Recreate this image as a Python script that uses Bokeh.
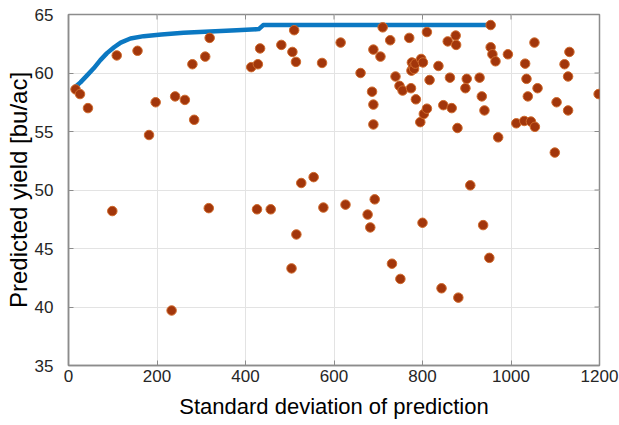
import math

from bokeh.plotting import figure
from bokeh.models import LinearAxis, Range1d, SingleIntervalTicker, ColumnDataSource
from bokeh.embed import file_html
from bokeh.resources import INLINE

# Candidate designs: prediction spread vs. predicted yield
std_dev = [16, 26, 44, 99, 109, 156, 182, 197, 233, 241, 263, 280, 284, 309, 317, 319,
           413, 426, 428, 433, 457, 481, 504, 506, 510, 514, 515, 526, 554, 573, 576,
           615, 626, 660, 676, 682, 686, 689, 689, 689, 692, 705, 710, 727, 731, 739,
           748, 750, 755, 770, 774, 775, 776, 779, 781, 784, 785, 795, 797, 800, 801,
           803, 810, 810, 816, 836, 843, 847, 857, 862, 866, 875, 876, 879, 881, 897,
           900, 908, 929, 934, 937, 940, 951, 954, 954, 958, 965, 971, 993, 1012, 1030,
           1032, 1035, 1038, 1045, 1053, 1054, 1060, 1099, 1103, 1121, 1129, 1129, 1132,
           1198]
yield_pred = [58.6, 58.2, 57.0, 48.2, 61.5, 61.9, 54.7, 57.5, 39.7, 58.0, 57.7, 60.75, 56.0,
              61.4, 48.45, 63.0, 60.5, 48.35, 60.75, 62.1, 48.35, 62.4, 43.3, 61.8, 63.66,
              60.95, 46.2, 50.6, 51.1, 60.86, 48.5, 62.6, 48.75, 60.0, 47.9, 46.8, 58.4,
              62.0, 57.3, 55.6, 49.2, 61.4, 63.9, 62.8, 43.7, 59.7, 58.9, 42.4, 58.5, 63.0,
              58.7, 60.2, 60.9, 60.55, 60.35, 60.8, 57.75, 55.8, 61.2, 47.2, 60.9, 56.5,
              63.5, 56.95, 59.4, 60.6, 41.6, 57.25, 62.7, 59.6, 57.0, 63.2, 62.4, 55.3,
              40.8, 58.7, 59.5, 50.4, 59.6, 58.0, 47.0, 56.8, 44.2, 64.1, 62.2, 61.6, 61.0,
              54.5, 61.6, 55.7, 55.9, 60.8, 59.5, 58.0, 55.85, 62.6, 55.4, 58.7, 53.2, 57.5,
              60.75, 59.7, 56.8, 61.8, 58.2]

# Upper envelope (best achievable yield for a given spread)
front_x = [8, 15, 27, 42, 57, 72, 87, 103, 118, 140, 170, 210, 260, 320, 380, 430, 440, 954]
front_y = [58.5, 58.8, 59.2, 59.8, 60.4, 61.1, 61.7, 62.2, 62.6, 62.95, 63.15, 63.3, 63.45,
           63.55, 63.65, 63.75, 64.1, 64.1]

x_ticks = [0, 200, 400, 600, 800, 1000, 1200]
y_ticks = [35, 40, 45, 50, 55, 60, 65]
X_MIN, X_MAX = 0, 1200
Y_MIN, Y_MAX = 35, 65

FONT = "Liberation Sans"
TXT = "#262626"
FRAME = "#8c8c8c"

p = figure(width=619, height=425, output_backend="svg", toolbar_location=None,
           x_range=Range1d(X_MIN, X_MAX), y_range=Range1d(Y_MIN, Y_MAX),
           min_border_left=68, min_border_right=20, min_border_top=14, min_border_bottom=60)
p.xaxis.visible = False
p.yaxis.visible = False
p.outline_line_color = FRAME
p.outline_line_width = 1.5
p.background_fill_color = "white"
p.border_fill_color = "white"

p.xgrid.ticker = SingleIntervalTicker(interval=200)
p.ygrid.ticker = SingleIntervalTicker(interval=5)
for g in (p.xgrid, p.ygrid):
    g.grid_line_color = "#e3e3e3"
    g.grid_line_width = 1


def style_axis(ax):
    ax.axis_line_color = FRAME
    ax.axis_line_width = 1.5
    ax.major_tick_in = 5
    ax.major_tick_out = 0
    ax.major_tick_line_color = FRAME
    ax.minor_tick_line_color = None
    ax.major_label_text_font = FONT
    ax.major_label_text_font_size = "17px"
    ax.major_label_text_color = TXT
    ax.axis_label_text_font = FONT
    ax.axis_label_text_font_style = "normal"
    ax.axis_label_text_color = "black"


xb = LinearAxis(ticker=SingleIntervalTicker(interval=200),
                axis_label="Standard deviation of prediction")
style_axis(xb)
xb.major_label_standoff = 0
xb.axis_label_standoff = 9
xb.axis_label_text_font_size = "22px"
p.add_layout(xb, "below")

yl = LinearAxis(ticker=SingleIntervalTicker(interval=5), axis_label="Predicted yield [bu/ac]")
style_axis(yl)
yl.major_label_standoff = 11
yl.axis_label_standoff = 0
yl.axis_label_text_font_size = "24px"
p.add_layout(yl, "left")

# Inward ticks on the top and right edges of the box (outer halves are clipped)
p.scatter(x_ticks, [Y_MAX] * len(x_ticks), marker="dash", angle=math.pi / 2, size=10,
          line_color=FRAME, line_width=1)
p.scatter([X_MAX] * len(y_ticks), y_ticks, marker="dash", size=10,
          line_color=FRAME, line_width=1)

p.line(front_x, front_y, line_color="#0b78c2", line_width=4.5, line_join="round")

src = ColumnDataSource(data=dict(x=std_dev, y=yield_pred))
p.scatter("x", "y", source=src, size=9.5, fill_color="#a2360b", line_color="#cf6a2c",
          line_width=1)

open("out.html", "w").write(file_html(p, INLINE))
